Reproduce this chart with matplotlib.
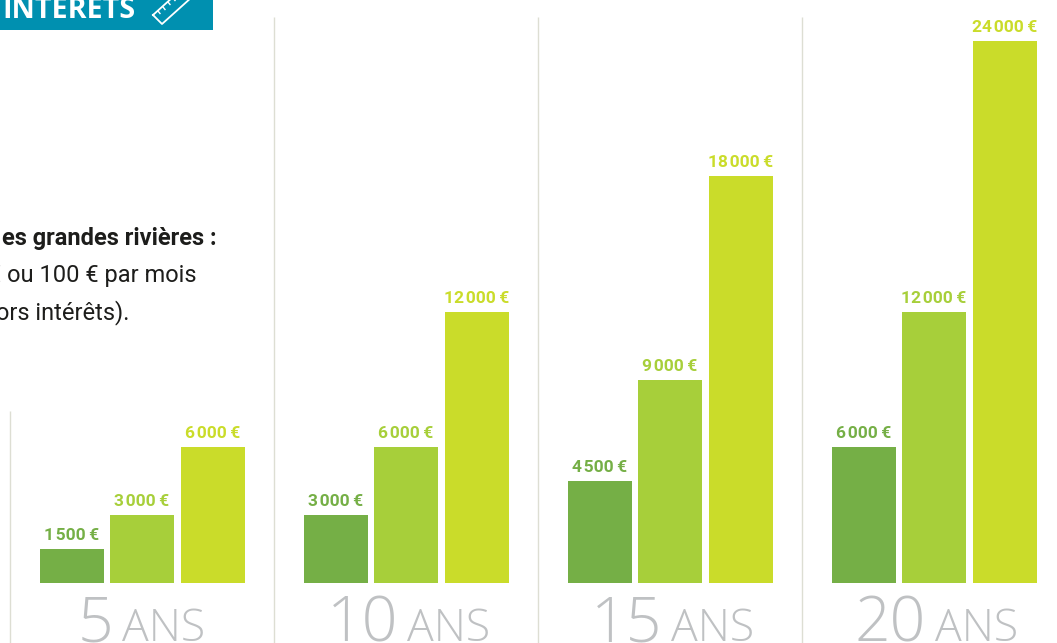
import matplotlib
matplotlib.use("Agg")
import matplotlib.pyplot as plt
from matplotlib.patches import Rectangle

durations = [5, 10, 15, 20]
low_rate = [1500, 3000, 4500, 6000]
mid_rate = [3000, 6000, 9000, 12000]
high_rate = [6000, 12000, 18000, 24000]
title_text = "INTERETS"
note_lines = ["es grandes rivières :", "€ ou 100 € par mois", "hors intérêts)."]

W, H = 1057, 643
BASE = 582.8
VAL_PER_PX = 24000 / 542
fig = plt.figure(figsize=(W / 100, H / 100), dpi=100)
ax = fig.add_axes([0, 0, 1, 1])
ax.set_xlim(0, W)
ax.set_ylim(-(H - BASE) * VAL_PER_PX, BASE * VAL_PER_PX)
ax.axis("off")

def yv(py):
    return (BASE - py) * VAL_PER_PX

colors = ["#75AF46", "#A7CF3A", "#CADC2A"]
starts = [40, 304, 568, 832]
offsets = [0, 70, 141]
seps = [(9.6, 411), (273.6, 17), (537.6, 17), (801.6, 17)]

for x, top in seps:
    ax.plot([x, x], [yv(top), yv(H)], color="#DDDED3", lw=1.0, solid_capstyle="butt")

def fmt(v):
    s = f"{v:,}".replace(",", "\u200a")
    return s + "\u2009€"

for i, d in enumerate(durations):
    for vals, off, c in zip((low_rate, mid_rate, high_rate), offsets, colors):
        xl = starts[i] + off
        ax.bar(xl, vals[i], width=64, align="edge", color=c, linewidth=0)
        ax.text(xl + 32, vals[i] + 9 * VAL_PER_PX, fmt(vals[i]), ha="center", va="baseline",
                color=c, fontsize=12.5, fontweight="bold", family=["Roboto", "DejaVu Sans"])
    ans_x = starts[i] + (82 if d < 10 else 103)
    ax.text(ans_x - 9, yv(641), str(d), ha="right", va="baseline",
            color="#BFC1C3", fontsize=45, fontweight="light", family="Open Sans")
    ax.text(ans_x, yv(641), "ANS", ha="left", va="baseline",
            color="#BFC1C3", fontsize=32, fontweight="light", family="Open Sans")

# title band
ax.add_patch(Rectangle((0, yv(30)), 213, yv(0) - yv(30), color="#0090B0", lw=0))
ax.text(2, yv(18), title_text, color="white", fontsize=20.6, fontweight="bold",
        family="Open Sans", va="baseline", ha="left")
# ruler icon
ruler_x = [153, 162, 192, 183, 153]
ruler_y = [15, 24, -3, -12, 15]
ax.plot(ruler_x, [yv(p) for p in ruler_y], color="white", lw=1.3, clip_on=True)
for tx, ty in [(158, 11), (163, 7), (168, 2), (173, -2)]:
    ax.plot([tx, tx + 2], [yv(ty), yv(ty + 2.5)], color="white", lw=1.0)

# note
for line, right, py in zip(note_lines, [217, 196, 129], [245, 282, 319]):
    weight = "bold" if line is note_lines[0] else "normal"
    ax.text(right, yv(py), line, ha="right", va="baseline", color="#1D1D1B",
            fontsize=17, fontweight=weight, family="Roboto")

fig.savefig("out.png", dpi=100)
